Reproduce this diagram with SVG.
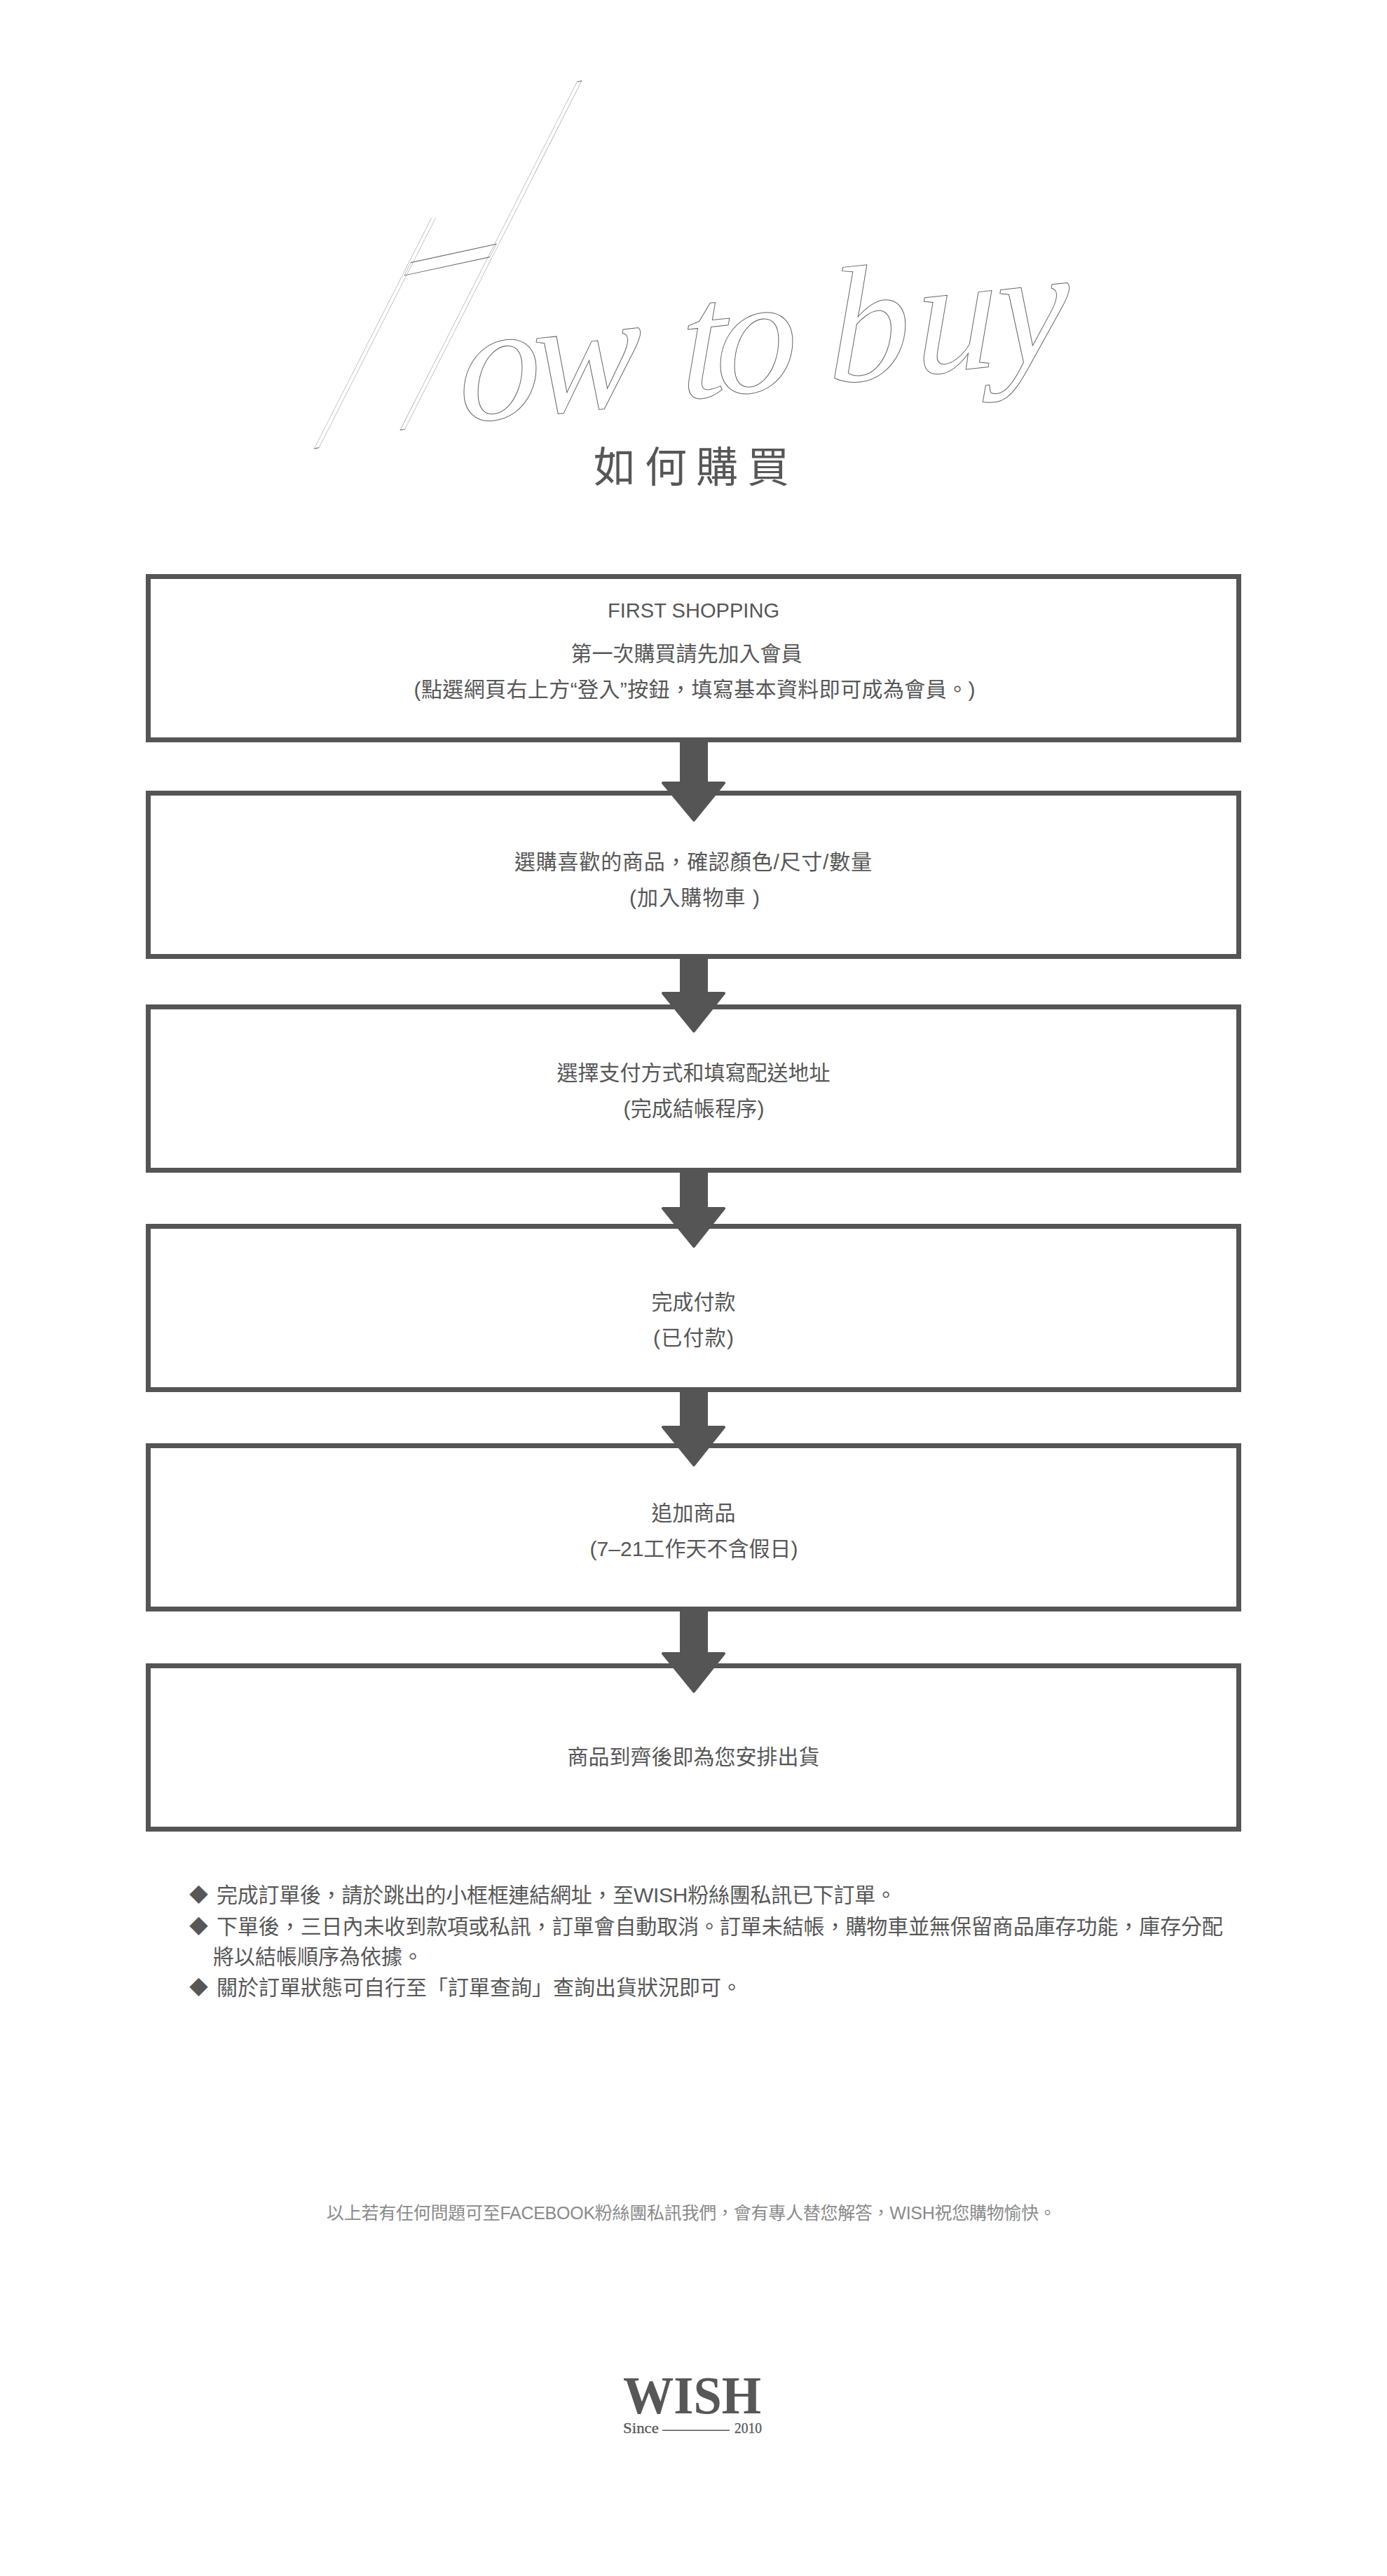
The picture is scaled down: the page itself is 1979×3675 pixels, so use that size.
<svg xmlns="http://www.w3.org/2000/svg" width="1979" height="3675" viewBox="0 0 1979 3675">
<style>
text{font-family:"Liberation Sans","Noto Sans CJK TC",sans-serif;fill:#575757}
.c{font-size:30px;text-anchor:middle}
.n{font-size:30px}
.d{font-size:27px}
.box{fill:none;stroke:#555;stroke-width:7}
.arrow{fill:#555;stroke:#555;stroke-width:4;stroke-linejoin:round}
.ol{fill:none;stroke:#666;stroke-width:1;vector-effect:non-scaling-stroke}
</style>
<defs>
<clipPath id="hclip"><path d="M300 700H1000V100H777L670 311H300Z"/></clipPath>
</defs>
<rect width="1979" height="3675" fill="#fff"/>
<g id="heading">
<g clip-path="url(#hclip)"><text class="ol" transform="matrix(2.55 -.55 -3.55 6.99 423.5 645.5)" style="font-family:Roboto,sans-serif;font-weight:100;font-size:100px;fill:none;stroke:#666">H</text></g>
<text class="ol" transform="translate(655 603) rotate(-6) skewX(-6)" x="0 105 280 318 368 500 530 655 771" style="font-family:'Liberation Serif',serif;font-style:italic;font-size:235px;fill:none;stroke:#666">ow to buy</text>
<text x="847" y="688" style="font-size:60px;letter-spacing:13px">如何購買</text>
</g>
<g id="connectors">
<path class="arrow" d="M972 1059V1117H946L990 1170L1033 1117H1008V1059Z"/>
<path class="arrow" d="M972 1368V1417H946L990 1471L1033 1417H1008V1368Z"/>
<path class="arrow" d="M972 1673V1724H946L990 1778L1033 1724H1008V1673Z"/>
<path class="arrow" d="M972 1986V2036H946L990 2090L1033 2036H1008V1986Z"/>
<path class="arrow" d="M972 2299V2359H946L990 2413L1033 2359H1008V2299Z"/>
</g>
<g id="step1"><rect class="box" x="211.500" y="822.500" width="1556" height="233"/>
<text class="c" x="989.500" y="881" textLength="245" lengthAdjust="spacingAndGlyphs">FIRST SHOPPING</text>
<text class="c" x="979.500" y="943">第一次購買請先加入會員</text>
<text class="c" x="991" y="994" textLength="801">(點選網頁右上方“登入”按鈕，填寫基本資料即可成為會員。)</text></g>
<g id="step2"><rect class="box" x="211.500" y="1131.500" width="1556" height="233"/>
<text class="c" x="989" y="1240" textLength="510">選購喜歡的商品，確認顏色/尺寸/數量</text>
<text class="c" x="991" y="1291" textLength="186">(加入購物車 )</text></g>
<g id="step3"><rect class="box" x="211.500" y="1436.500" width="1556" height="233"/>
<text class="c" x="989.500" y="1541">選擇支付方式和填寫配送地址</text>
<text class="c" x="990" y="1592" textLength="201">(完成結帳程序)</text></g>
<g id="step4"><rect class="box" x="211.500" y="1749.500" width="1556" height="233"/>
<text class="c" x="989.500" y="1868">完成付款</text>
<text class="c" x="989.500" y="1919" textLength="115">(已付款)</text></g>
<g id="step5"><rect class="box" x="211.500" y="2062.500" width="1556" height="233"/>
<text class="c" x="989.500" y="2169">追加商品</text>
<text class="c" x="990" y="2220" textLength="297">(7–21工作天不含假日)</text></g>
<g id="step6"><rect class="box" x="211.500" y="2376.500" width="1556" height="233"/>
<text class="c" x="989.500" y="2517">商品到齊後即為您安排出貨</text></g>
<g id="notes">
<text class="d" x="270" y="2713">◆</text><text class="n" x="309" y="2714" textLength="970">完成訂單後，請於跳出的小框框連結網址，至WISH粉絲團私訊已下訂單。</text>
<text class="d" x="270" y="2758">◆</text><text class="n" x="309" y="2759" textLength="1436">下單後，三日內未收到款項或私訊，訂單會自動取消。訂單未結帳，購物車並無保留商品庫存功能，庫存分配</text>
<text class="n" x="304" y="2802">將以結帳順序為依據。</text>
<text class="d" x="270" y="2845">◆</text><text class="n" x="309" y="2846">關於訂單狀態可自行至「訂單查詢」查詢出貨狀況即可。</text>
</g>
<g id="footer">
<text x="986.500" y="3166" text-anchor="middle" textLength="1041" style="font-size:25px;fill:#8a8a8a">以上若有任何問題可至FACEBOOK粉絲團私訊我們，會有專人替您解答，WISH祝您購物愉快。</text>
</g>
<g id="logo">
<text x="889" y="3443" textLength="197" lengthAdjust="spacingAndGlyphs" style="font-family:'Liberation Serif',serif;font-weight:700;font-size:76px">WISH</text>
<text x="889" y="3471" textLength="51" lengthAdjust="spacingAndGlyphs" style="font-family:'Liberation Serif',serif;font-size:22px;stroke:#575757;stroke-width:.3">Since</text>
<rect x="945" y="3466.500" width="96" height="1.500" fill="#575757"/>
<text x="1048" y="3471" textLength="39" lengthAdjust="spacingAndGlyphs" style="font-family:'Liberation Serif',serif;font-size:22px;stroke:#575757;stroke-width:.3">2010</text>
</g>
</svg>
